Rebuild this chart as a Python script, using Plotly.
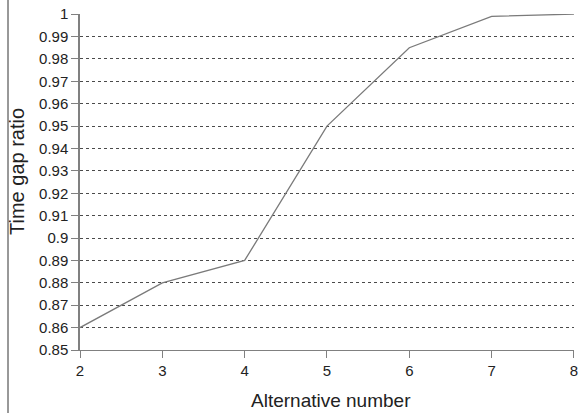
import plotly.graph_objects as go

alternatives = [2, 3, 4, 5, 6, 7, 8]
ratios = [0.86, 0.88, 0.89, 0.95, 0.985, 0.999, 1.0]
y_ticks = [0.85, 0.86, 0.87, 0.88, 0.89, 0.9, 0.91, 0.92, 0.93, 0.94, 0.95,
           0.96, 0.97, 0.98, 0.99, 1.0]
y_tick_labels = ["0.85", "0.86", "0.87", "0.88", "0.89", "0.9", "0.91", "0.92",
                 "0.93", "0.94", "0.95", "0.96", "0.97", "0.98", "0.99", "1"]
x_ticks = [2, 3, 4, 5, 6, 7, 8]
x_title = "Alternative number"
y_title = "Time gap ratio"

L, R, T, B = 80, 6, 14, 63
W, H = 580, 413
pw, ph = W - L - R, H - T - B

fig = go.Figure()
fig.add_trace(go.Scatter(
    x=alternatives, y=ratios, mode="lines",
    line=dict(color="#7a7a7a", width=1.3),
    showlegend=False, hoverinfo="skip",
))

fig.update_layout(
    width=W, height=H,
    margin=dict(l=L, r=R, t=T, b=B),
    paper_bgcolor="white", plot_bgcolor="white",
    font=dict(family="Liberation Sans, Arial, sans-serif", color="#222222", size=15),
    xaxis=dict(
        range=[2, 8.0005], tickvals=x_ticks, ticktext=[str(v) for v in x_ticks],
        showgrid=False, zeroline=False, automargin=False,
        showline=True, linecolor="#808080", linewidth=1,
        ticks="outside", ticklen=7, tickcolor="#808080",
        tickfont=dict(size=15),
    ),
    yaxis=dict(
        range=[0.85, 1.00005], tickvals=y_ticks, ticktext=y_tick_labels,
        showgrid=True, gridcolor="#4a4a4a", griddash="dot", gridwidth=1,
        zeroline=False, automargin=False,
        showline=True, linecolor="#808080", linewidth=1.5,
        ticks="outside", ticklen=7, tickcolor="#808080",
        tickfont=dict(size=15),
    ),
    annotations=[
        dict(text=x_title, xref="paper", yref="paper",
             x=(331 - L) / pw, y=-(400 - (T + ph)) / ph,
             xanchor="center", yanchor="middle", showarrow=False,
             font=dict(size=19, color="#222222")),
        dict(text=y_title, xref="paper", yref="paper",
             x=-(L - 17) / pw, y=(T + ph - 171) / ph,
             xanchor="center", yanchor="middle", showarrow=False,
             textangle=-90, font=dict(size=20, color="#222222")),
    ],
)

# left border line of the original figure
fig.add_shape(type="line", xref="paper", yref="paper",
              x0=-(L - 8) / pw, x1=-(L - 8) / pw, y0=-B / ph, y1=1 + T / ph,
              line=dict(color="#333333", width=1))

fig.write_html("out.html", config={"displayModeBar": False})

# remove the browser's default page margin so the figure fills the window
with open("out.html", "r", encoding="utf-8") as f:
    html = f.read()
html = html.replace("<body>", '<body style="margin:0;padding:0;overflow:hidden">', 1)
with open("out.html", "w", encoding="utf-8") as f:
    f.write(html)
